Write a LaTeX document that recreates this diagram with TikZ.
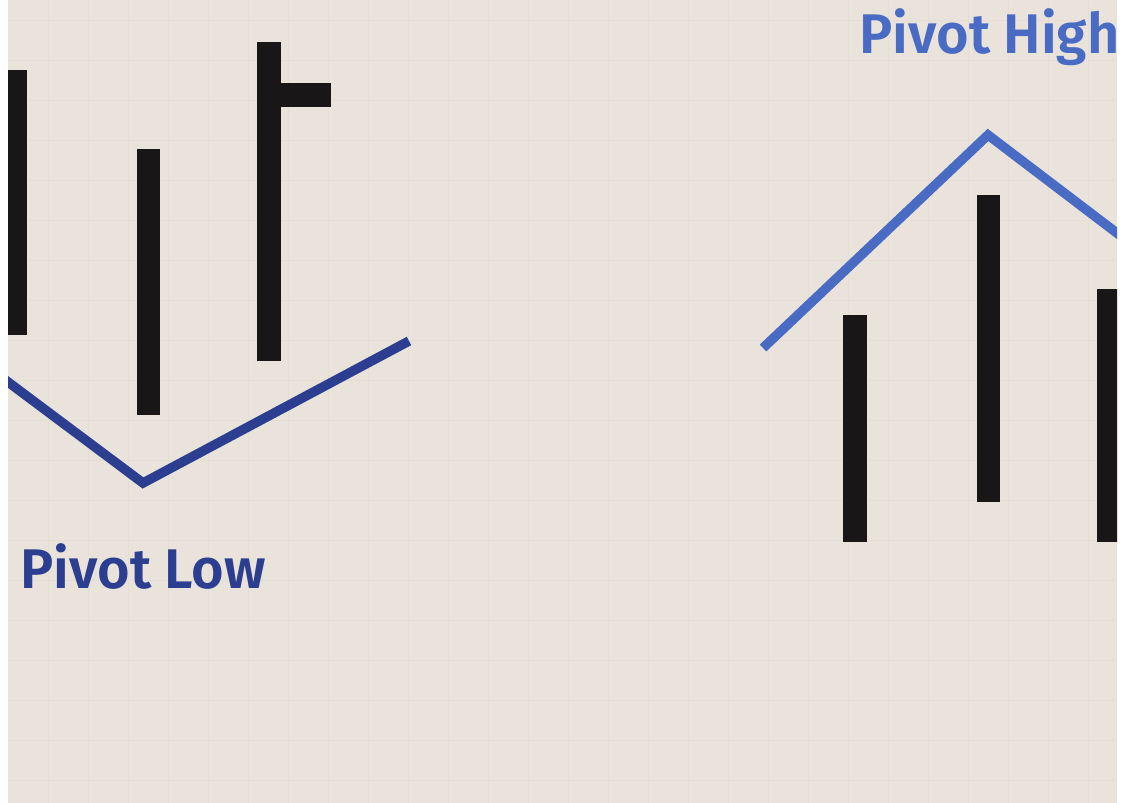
\documentclass[tikz,border=0pt]{standalone}
\usepackage{fontspec}
\setmainfont{Fira Sans}[BoldFont={Fira Sans SemiBold}]
\usetikzlibrary{positioning}

\begin{document}
\begin{tikzpicture}[x=0.02cm,y=-0.02cm,font=\bfseries\fontsize{31.8}{38}\selectfont]
  \definecolor{paper}{RGB}{233,227,219}
  \definecolor{gridline}{RGB}{229,222,213}
  \definecolor{bar}{RGB}{24,22,22}
  \definecolor{lowblue}{RGB}{44,62,143}
  \definecolor{highblue}{RGB}{74,107,196}

  \useasboundingbox (0,0) rectangle (1121,803);
  \fill[white] (0,0) rectangle (1121,803);

  \begin{scope}
    \clip (8,0) rectangle (1117,803);
    \fill[paper] (8,0) rectangle (1117,803);
    \foreach \x in {48,88,...,1117} {
      \draw[gridline, line width=0.4pt] (\x,0) -- (\x,803);
    }
    \foreach \y in {20,60,...,803} {
      \draw[gridline, line width=0.4pt] (8,\y) -- (1117,\y);
    }

    % bars
    \foreach \xa/\xb/\top/\bot in {
      4/27/70/335,
      137/160/149/415,
      257/281/42/361,
      843/867/315/542,
      977/1000/195/502,
      1097/1125/289/542
    } {
      \fill[bar] (\xa,\top) rectangle (\xb,\bot);
    }
    \fill[bar] (281,83) rectangle (331,107);

    % pivot lines
    \coordinate (lowA) at (0,376);
    \coordinate (lowB) at (143,483);
    \coordinate (lowC) at (409,341);
    \draw[lowblue, line width=5.4pt] (lowA) -- (lowB) -- (lowC);

    \coordinate (highA) at (763,348);
    \coordinate (highB) at (988,135);
    \coordinate (highC) at (1130,243);
    \draw[highblue, line width=5.4pt] (highA) -- (highB) -- (highC);

    \node[anchor=base west, lowblue, inner sep=0pt] (lowlabel) at (20,588) {Pivot Low};
    \node[anchor=base west, highblue, inner sep=0pt] (highlabel) at (859,54) {Pivot High};
  \end{scope}
\end{tikzpicture}
\end{document}
